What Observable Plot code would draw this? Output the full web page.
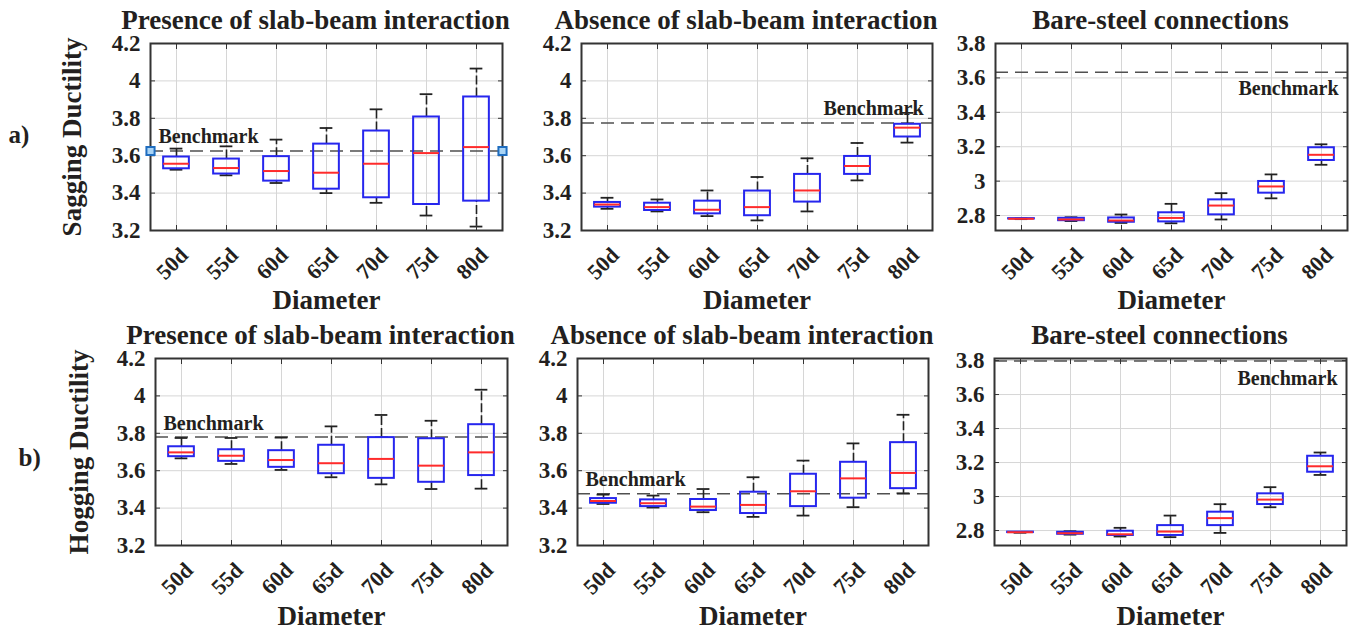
<!DOCTYPE html>
<html><head><meta charset="utf-8">
<script src="https://cdn.jsdelivr.net/npm/d3@7"></script>
<script src="https://cdn.jsdelivr.net/npm/@observablehq/plot@0.6"></script>
<style>
body{margin:0;background:#fff;}
#root{position:relative;width:1354px;height:631px;overflow:hidden;background:#fff;}
.panel{position:absolute;}
.panel svg{overflow:visible;background:transparent;max-width:none;}
</style></head><body><div id="root"></div>
<script>
const categories = ["50d","55d","60d","65d","70d","75d","80d"];
const ticksA = [3.2,3.4,3.6,3.8,4.0,4.2];
const ticksB = [2.8,3.0,3.2,3.4,3.6,3.8];
const titles = ["Presence of slab-beam interaction","Absence of slab-beam interaction","Bare-steel connections"];
const rowLabels = ["a)","b)"];
const yLabels = ["Sagging Ductility","Hogging Ductility"];
const xLabel = "Diameter";
const benchLabel = "Benchmark";
// each row: [lower whisker, Q1, median, Q3, upper whisker]
const sagPresence = [
  [3.525,3.530,3.557,3.593,3.638],
  [3.495,3.502,3.534,3.582,3.650],
  [3.454,3.464,3.518,3.595,3.686],
  [3.400,3.421,3.509,3.662,3.748],
  [3.348,3.375,3.557,3.732,3.848],
  [3.280,3.339,3.614,3.807,3.929],
  [3.221,3.357,3.646,3.914,4.066]
];
const sagAbsence = [
  [3.316,3.325,3.339,3.350,3.375],
  [3.302,3.307,3.325,3.346,3.366],
  [3.277,3.289,3.311,3.357,3.414],
  [3.254,3.279,3.325,3.411,3.486],
  [3.302,3.352,3.414,3.500,3.586],
  [3.468,3.500,3.545,3.596,3.668],
  [3.670,3.700,3.750,3.768,3.829]
];
const sagBare = [
  [2.779,2.780,2.781,2.782,2.783],
  [2.768,2.770,2.777,2.784,2.790],
  [2.757,2.761,2.771,2.786,2.806],
  [2.755,2.763,2.786,2.816,2.868],
  [2.777,2.804,2.858,2.891,2.930],
  [2.900,2.930,2.969,2.998,3.039],
  [3.095,3.120,3.153,3.194,3.214]
];
const hogPresence = [
  [3.666,3.675,3.698,3.728,3.775],
  [3.636,3.650,3.680,3.712,3.775],
  [3.604,3.618,3.657,3.707,3.777],
  [3.565,3.584,3.640,3.736,3.837],
  [3.527,3.559,3.663,3.777,3.898],
  [3.502,3.538,3.627,3.771,3.867],
  [3.504,3.574,3.698,3.846,4.033]
];
const hogAbsence = [
  [3.422,3.426,3.438,3.451,3.472],
  [3.403,3.408,3.426,3.444,3.467],
  [3.378,3.387,3.408,3.446,3.502],
  [3.353,3.371,3.417,3.485,3.565],
  [3.360,3.408,3.490,3.581,3.654],
  [3.405,3.453,3.559,3.645,3.746],
  [3.479,3.504,3.588,3.750,3.899]
];
const hogBare = [
  [2.787,2.788,2.790,2.791,2.792],
  [2.776,2.778,2.784,2.790,2.796],
  [2.765,2.771,2.778,2.796,2.816],
  [2.761,2.771,2.794,2.829,2.888],
  [2.786,2.829,2.873,2.908,2.955],
  [2.937,2.953,2.982,3.016,3.055],
  [3.127,3.143,3.178,3.237,3.259]
];
const benchmarks = [3.625, 3.775, 3.633, 3.780, 3.477, 3.797];

const FONT = "Liberation Serif";
const TXT = "#231f20";
const fmt = d => String(+d.toFixed(1));

function panel(c) {
  const rows = categories.map((cat, i) => ({cat, lo: c.stats[i][0], q1: c.stats[i][1], med: c.stats[i][2], q3: c.stats[i][3], hi: c.stats[i][4]}));
  const band = (c.width - c.ml - c.mr) / categories.length;
  const bi = (band - 26) / 2;
  const ci = (band - 13) / 2;
  const marks = [
    Plot.gridY(c.ticks, {stroke: "#d6d6d6", strokeOpacity: 1, strokeWidth: 1}),
    Plot.gridX(categories, {stroke: "#d6d6d6", strokeOpacity: 1, strokeWidth: 1}),
    Plot.ruleY([c.bench], {stroke: "#505050", strokeWidth: 1.6, strokeDasharray: "13,7"}),
    Plot.ruleX(rows, {x: "cat", y1: "q3", y2: "hi", stroke: "#222", strokeWidth: 1.6, strokeDasharray: "9,3"}),
    Plot.ruleX(rows, {x: "cat", y1: "lo", y2: "q1", stroke: "#222", strokeWidth: 1.6, strokeDasharray: "9,3"}),
    Plot.tickY(rows, {x: "cat", y: "hi", stroke: "#222", strokeWidth: 1.8, insetLeft: ci, insetRight: ci}),
    Plot.tickY(rows, {x: "cat", y: "lo", stroke: "#222", strokeWidth: 1.8, insetLeft: ci, insetRight: ci}),
    Plot.barY(rows, {x: "cat", y1: "q1", y2: "q3", fill: "none", stroke: "#2626ee", strokeWidth: 2, insetLeft: bi, insetRight: bi}),
    Plot.tickY(rows, {x: "cat", y: "med", stroke: "#ff2b2b", strokeWidth: 2, insetLeft: bi, insetRight: bi}),
    Plot.frame({stroke: "#333", strokeWidth: 2}),
    Plot.axisY(c.ticks, {anchor: "left", tickSize: 5, dx: 5, tickFormat: () => "", label: null, stroke: "#333"}),
    Plot.axisY(c.ticks, {anchor: "right", tickSize: 5, dx: -5, tickFormat: () => "", label: null, stroke: "#333"}),
    Plot.axisX(categories, {anchor: "bottom", tickSize: 5, dy: -5, tickFormat: () => "", label: null, stroke: "#333"}),
    Plot.axisX(categories, {anchor: "top", tickSize: 5, dy: 5, tickFormat: () => "", label: null, stroke: "#333"}),
    Plot.axisY(c.ticks, {anchor: "left", tickSize: 0, tickPadding: 10, tickFormat: fmt, label: null, fontSize: 23, fontWeight: "bold", fill: TXT}),
    Plot.axisX(categories, {anchor: "bottom", tickSize: 0, tickPadding: 21, tickRotate: -45, dx: 8, label: null, fontSize: 22, fontWeight: "bold", fill: TXT}),
    Plot.text([c.title], {frameAnchor: "top", dx: -11, dy: -15, lineAnchor: "bottom", fontSize: 27, fontWeight: "bold", fill: TXT}),
    Plot.text([xLabel], {frameAnchor: "bottom", dy: c.xdy, lineAnchor: "bottom", fontSize: 27, fontWeight: "bold", fill: TXT}),
    Plot.text([benchLabel], {y: d => c.bench, frameAnchor: c.bSide, dx: c.bSide === "left" ? 8 : -9, dy: c.bdy, textAnchor: c.bSide === "left" ? "start" : "end", lineAnchor: "bottom", fontSize: 20, fontWeight: "bold", fill: TXT})
  ];
  if (c.ylabel) {
    marks.push(Plot.text([c.ylabel], {frameAnchor: "left", dx: c.ylx - c.ml, rotate: -90, textAnchor: "middle", lineAnchor: "bottom", fontSize: 27, fontWeight: "bold", fill: TXT}));
    marks.push(Plot.text([c.rowLabel], {frameAnchor: "left", dx: c.rlx - c.ml, dy: c.rldy, textAnchor: "start", lineAnchor: "bottom", fontSize: 25, fontWeight: "bold", fill: TXT}));
  }
  if (c.squares) {
    for (const side of ["left", "right"]) {
      marks.push(Plot.dot([c.bench], {y: d => d, frameAnchor: side, symbol: "square", r: 4.6, stroke: "#1f6dbf", fill: "#a9d4f5", strokeWidth: 2}));
    }
  }
  const svg = Plot.plot({
    width: c.width, height: c.height,
    marginLeft: c.ml, marginRight: c.mr, marginTop: c.mt, marginBottom: c.mb,
    x: {type: "band", domain: categories, padding: 0, align: 0.5, axis: null},
    y: {domain: c.domain, axis: null},
    style: {fontFamily: FONT, color: TXT, background: "transparent", overflow: "visible"},
    marks
  });
  const div = document.createElement("div");
  div.className = "panel";
  div.style.left = c.left + "px";
  div.style.top = c.top + "px";
  div.appendChild(svg);
  document.getElementById("root").appendChild(div);
}

const domA = [3.2, 4.2];
panel({stats: sagPresence, bench: benchmarks[0], domain: domA, ticks: ticksA, title: titles[0], ylabel: yLabels[0], rowLabel: rowLabels[0], ylx: 80, rlx: 8, rldy: 5.5, squares: true,
  left: 0, top: 0, width: 512, height: 315, ml: 150, mr: 10, mt: 43, mb: 85, xdy: 78, bSide: "left", bdy: -8.5});
panel({stats: sagAbsence, bench: benchmarks[1], domain: domA, ticks: ticksA, title: titles[1],
  left: 470, top: 0, width: 472, height: 315, ml: 111, mr: 10, mt: 43, mb: 85, xdy: 78, bSide: "right", bdy: -8});
panel({stats: sagBare, bench: benchmarks[2], domain: [2.713, 3.8], ticks: ticksB, title: titles[2],
  left: 930, top: 0, width: 424, height: 315, ml: 65, mr: 7, mt: 43, mb: 85, xdy: 78, bSide: "right", bdy: 23});
panel({stats: hogPresence, bench: benchmarks[3], domain: domA, ticks: ticksA, title: titles[0], ylabel: yLabels[1], rowLabel: rowLabels[1], ylx: 87, rlx: 18, rldy: 13.5,
  left: 0, top: 315, width: 517, height: 316, ml: 155, mr: 10, mt: 43, mb: 86, xdy: 79, bSide: "left", bdy: -7});
panel({stats: hogAbsence, bench: benchmarks[4], domain: domA, ticks: ticksA, title: titles[1],
  left: 470, top: 315, width: 468, height: 316, ml: 107, mr: 10, mt: 43, mb: 86, xdy: 79, bSide: "left", bdy: -8});
panel({stats: hogBare, bench: benchmarks[5], domain: [2.712, 3.812], ticks: ticksB, title: titles[2],
  left: 930, top: 315, width: 424, height: 316, ml: 64, mr: 8, mt: 43, mb: 86, xdy: 79, bSide: "right", bdy: 24});
</script>
</body></html>
